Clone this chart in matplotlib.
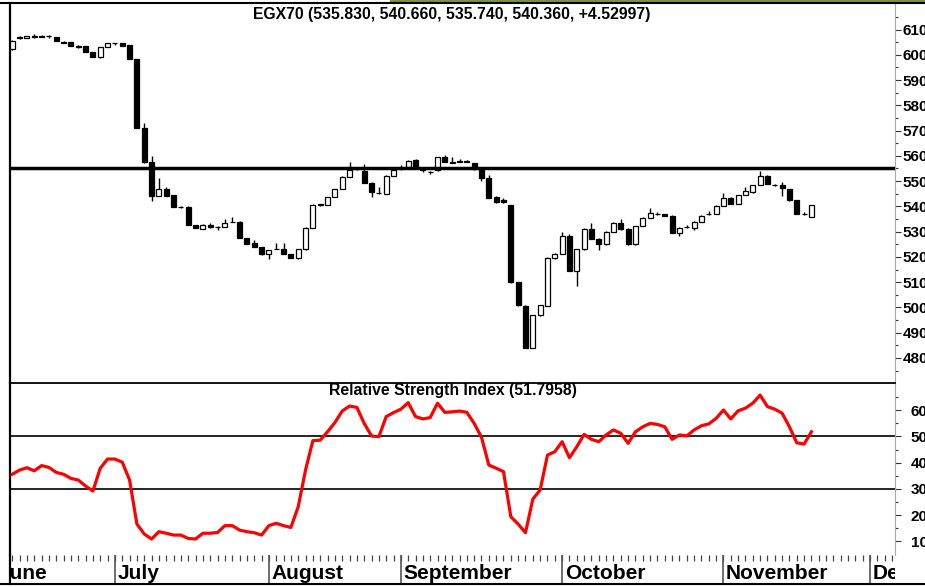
import matplotlib
matplotlib.use("Agg")
import matplotlib.pyplot as plt
import matplotlib.transforms as mtransforms
from matplotlib.lines import Line2D
from matplotlib.patches import Rectangle
import numpy as np

plt.rcParams['font.family'] = ['Liberation Sans', 'DejaVu Sans']
plt.rcParams['font.weight'] = 'bold'

# ---------------- data ----------------
opens = [602.3, 606.5, 606.8, 607.3, 607.0, 607.5, 607.0, 604.9, 605.0, 603.3,
         603.4, 601.0, 599.0, 603.0, 604.6, 604.6, 603.7, 598.4, 571.0, 557.4,
         544.1, 547.0, 544.4, 539.8, 539.8, 532.6, 531.0, 532.8, 532.0, 531.8,
         534.0, 533.8, 527.4, 525.4, 523.9, 521.0, 523.3, 523.0, 521.0, 519.4,
         523.0, 531.6, 540.7, 540.6, 543.7, 546.8, 551.8, 555.0, 554.0, 549.4,
         545.2, 545.1, 552.0, 555.0, 555.6, 558.4, 554.7, 553.8, 554.3, 559.4,
         557.4, 557.8, 557.8, 557.0, 554.3, 551.4, 543.7, 542.7, 540.4, 510.0,
         500.6, 484.0, 496.9, 500.5, 519.4, 521.3, 528.3, 514.6, 523.0, 531.2,
         527.0, 525.0, 530.0, 533.5, 530.9, 525.0, 532.2, 535.6, 537.0, 536.8,
         536.2, 529.3, 531.9, 531.3, 534.0, 537.0, 536.9, 540.2, 543.5, 541.1,
         544.5, 545.5, 548.4, 552.1, 548.6, 548.5, 546.8, 542.4, 537.0, 535.83]
highs = [606.0, 607.6, 607.6, 608.3, 607.8, 608.0, 607.2, 605.3, 605.1, 603.7,
         603.6, 601.2, 603.2, 604.8, 604.8, 604.8, 603.9, 598.5, 573.0, 560.0,
         551.2, 547.5, 544.5, 540.1, 540.3, 532.8, 532.9, 533.4, 532.4, 535.1,
         535.8, 534.1, 527.6, 526.6, 524.0, 522.9, 525.4, 525.5, 521.2, 523.2,
         531.8, 540.8, 541.0, 543.9, 547.0, 552.0, 557.4, 555.3, 556.6, 549.5,
         547.8, 552.3, 554.5, 556.5, 558.2, 558.6, 555.2, 554.2, 559.6, 560.3,
         559.6, 558.8, 558.5, 557.3, 554.5, 552.4, 544.0, 543.3, 540.5, 510.2,
         500.8, 497.0, 501.0, 519.9, 521.5, 530.0, 529.0, 523.2, 531.4, 533.5,
         527.3, 530.2, 533.7, 535.0, 531.5, 532.4, 535.8, 539.4, 537.9, 537.0,
         536.4, 531.8, 532.8, 534.2, 536.4, 538.3, 540.4, 545.4, 543.8, 544.7,
         547.6, 548.6, 554.1, 552.4, 548.8, 549.6, 547.0, 542.5, 537.8, 540.66]
lows = [602.0, 606.3, 606.5, 606.8, 606.9, 606.8, 605.3, 604.5, 603.3, 602.6,
        601.0, 599.3, 598.9, 603.0, 603.8, 603.5, 598.2, 571.0, 557.2, 542.1,
        544.0, 544.0, 539.8, 539.3, 532.6, 531.3, 531.0, 531.6, 530.8, 531.7,
        533.8, 527.6, 525.2, 523.9, 520.9, 519.0, 523.0, 521.0, 519.6, 519.3,
        522.8, 531.5, 540.2, 540.5, 543.6, 546.7, 551.7, 554.6, 549.3, 543.7,
        545.0, 545.0, 551.9, 554.6, 555.4, 555.5, 553.6, 553.0, 554.2, 557.4,
        557.2, 557.6, 557.4, 554.6, 550.2, 543.3, 541.5, 541.3, 509.6, 500.7,
        483.9, 483.9, 496.8, 500.4, 519.3, 521.2, 514.4, 508.4, 522.9, 527.1,
        522.9, 524.9, 529.9, 530.7, 524.8, 524.9, 532.1, 535.5, 536.4, 536.2,
        529.4, 528.4, 531.6, 530.5, 533.9, 536.6, 536.8, 540.1, 541.0, 541.0,
        544.4, 545.4, 548.3, 548.8, 548.1, 544.0, 542.2, 537.0, 536.6, 535.74]
closes = [605.6, 607.2, 607.3, 607.2, 607.6, 607.4, 605.4, 604.8, 603.3, 603.2,
          601.0, 599.3, 603.0, 604.7, 604.5, 603.6, 598.4, 571.0, 557.4, 544.1,
          546.8, 544.1, 539.8, 539.7, 532.6, 531.3, 532.8, 531.7, 531.9, 533.6,
          534.0, 527.6, 525.2, 523.9, 521.0, 522.7, 523.2, 521.0, 519.7, 523.0,
          531.6, 540.6, 540.8, 543.7, 546.8, 551.8, 554.3, 554.9, 549.4, 545.5,
          545.2, 552.1, 554.3, 555.0, 558.0, 555.6, 554.6, 553.7, 559.4, 557.4,
          557.3, 557.7, 557.7, 554.7, 551.4, 543.5, 541.9, 541.6, 510.0, 500.9,
          484.0, 496.9, 500.8, 519.7, 521.3, 528.3, 514.6, 523.0, 531.2, 527.2,
          525.2, 530.0, 533.5, 530.9, 525.0, 532.2, 535.6, 537.5, 537.0, 536.3,
          529.6, 531.6, 531.9, 534.0, 536.2, 537.0, 540.2, 543.5, 541.1, 544.5,
          545.9, 548.4, 552.1, 549.0, 548.5, 547.2, 542.4, 537.1, 537.0, 540.36]
rsi = [35.6, 37.2, 38.1, 36.9, 38.9, 38.2, 36.3, 35.6, 34.0, 33.4,
       31.1, 29.2, 37.9, 41.4, 41.4, 40.2, 33.4, 16.6, 12.8, 10.9,
       13.7, 13.1, 12.4, 12.4, 11.1, 10.9, 13.1, 13.1, 13.4, 16.0,
       16.0, 14.3, 13.7, 13.3, 12.4, 16.0, 16.9, 16.0, 15.3, 23.2,
       37.2, 48.4, 48.6, 51.8, 55.3, 59.7, 61.6, 61.1, 55.0, 50.2,
       49.9, 57.6, 59.1, 60.4, 62.9, 57.6, 56.7, 57.2, 62.7, 59.2,
       59.4, 59.7, 59.2, 55.0, 49.7, 39.1, 37.9, 36.6, 19.4, 16.6,
       13.3, 26.1, 29.6, 42.9, 44.2, 48.0, 41.9, 46.1, 50.8, 48.9,
       48.0, 50.6, 52.5, 51.2, 47.4, 51.8, 53.7, 55.0, 54.6, 53.7,
       48.9, 50.6, 50.2, 52.5, 54.1, 54.8, 56.9, 60.1, 56.7, 59.8,
       60.8, 62.7, 65.8, 61.4, 60.4, 58.9, 53.7, 47.6, 47.1, 51.8]
resistance = 555
rsi_levels = [30, 50]
months = ['June', 'July', 'August', 'September', 'October', 'November', 'December']
month_starts = [-2.2, 14, 35, 53, 75, 97, 117]
price_ticks = list(range(480, 611, 10))
rsi_ticks = [10, 20, 30, 40, 50, 60]
title_price = "EGX70 (535.830, 540.660, 535.740, 540.360, +4.52997)"
title_rsi = "Relative Strength Index (51.7958)"

# ---------------- layout ----------------
W, H = 925, 587
fig = plt.figure(figsize=(W / 100, H / 100), dpi=100)
fig.patch.set_facecolor('white')

def fx(px):
    return px / W

def fy(py):
    return 1 - py / H

L, R = 10, 895
ax_p = fig.add_axes([fx(L), fy(383), (R - L) / W, (383 - 3) / H])
ax_r = fig.add_axes([fx(L), fy(555), (R - L) / W, (555 - 383) / H], sharex=ax_p)
ax_d = fig.add_axes([fx(L), fy(584), (R - L) / W, (584 - 555) / H], sharex=ax_p)

xmin, xmax = -0.31, 120.4
ax_p.set_xlim(xmin, xmax)

# ---------------- price candles ----------------
x = np.arange(len(opens))
o = np.array(opens); c = np.array(closes)
h = np.array(highs); lo = np.array(lows)
up = c >= o
ax_p.vlines(x, lo, h, color='black', lw=1.0, zorder=2)
face = np.where(up, 'white', 'black')
ax_p.bar(x, c - o, bottom=o, width=0.68, color=face, edgecolor='black',
         linewidth=0.9, zorder=3)
ax_p.axhline(resistance, color='black', lw=2.5, zorder=4)
ax_p.set_ylim(470.1, 620.5)

ax_p.yaxis.tick_right()
ax_p.set_yticks(price_ticks)
ax_p.set_yticks(list(range(475, 620, 5)), minor=True)
ax_p.tick_params(axis='y', which='major', length=4.3, width=0.8, pad=1.2,
                 labelsize=11, color='#333')
ax_p.tick_params(axis='y', which='minor', length=2.2, width=0.8, color='#333')
ax_p.tick_params(axis='x', which='both', bottom=False, labelbottom=False)

# ---------------- RSI ----------------
ax_r.plot(np.arange(len(rsi)), rsi, color='#ff0000', lw=2.3, zorder=3,
          solid_joinstyle='round')
for lv in rsi_levels:
    ax_r.axhline(lv, color='black', lw=1.2, zorder=2)
ax_r.set_ylim(4.8, 70.4)
ax_r.yaxis.tick_right()
ax_r.set_yticks(rsi_ticks)
ax_r.set_yticks([15, 25, 35, 45, 55, 65], minor=True)
ax_r.tick_params(axis='y', which='major', length=4.3, width=0.8, pad=7,
                 labelsize=11, color='#333')
ax_r.tick_params(axis='y', which='minor', length=2.2, width=0.8, color='#333')
ax_r.tick_params(axis='x', which='both', bottom=False, labelbottom=False)

# ---------------- date strip ----------------
ax_d.set_ylim(0, 1)
ax_d.vlines(np.arange(0, 121), 1 - 6 / 29, 1, color='#444', lw=0.9)
ax_d.vlines(month_starts, 0, 1, color='#555', lw=1.2)
trans = mtransforms.blended_transform_factory(ax_d.transData, ax_d.transAxes)
trans = mtransforms.offset_copy(trans, fig=fig, x=2.5, y=0, units='dots')
for m, name in zip(month_starts, months):
    ax_d.text(m, 0.17, name, transform=trans, ha='left', va='baseline',
              fontsize=15, fontweight='bold', clip_on=True)
ax_d.set_yticks([])
ax_d.tick_params(axis='x', which='both', bottom=False, labelbottom=False)

# ---------------- spines ----------------
for ax in (ax_p, ax_r, ax_d):
    for s in ('top', 'bottom'):
        ax.spines[s].set_visible(False)
    ax.spines['left'].set_color('black')
    ax.spines['left'].set_linewidth(1.6)
    ax.spines['right'].set_color('#aaaaaa')
    ax.spines['right'].set_linewidth(0.8)
ax_r.spines['top'].set_visible(True)
ax_r.spines['top'].set_color('black')
ax_r.spines['top'].set_linewidth(1.3)
ax_d.spines['right'].set_visible(False)

# ---------------- frame & titles ----------------
fig.add_artist(Rectangle((fx(390), fy(2.2)), 1 - fx(390), 2.2 / H,
                         transform=fig.transFigure, color='#7f9234', lw=0))
fig.add_artist(Line2D([0, 1], [fy(3), fy(3)], transform=fig.transFigure,
                      color='black', lw=1.5))
fig.add_artist(Line2D([0, 1], [fy(584), fy(584)], transform=fig.transFigure,
                      color='black', lw=1.5))

fig.text(fx(452), fy(14), title_price, ha='center', va='center',
         fontsize=11.3, fontweight='bold')
fig.text(fx(453), fy(391), title_rsi, ha='center', va='center',
         fontsize=11.3, fontweight='bold')

fig.savefig('out.png', dpi=100, facecolor='white')
